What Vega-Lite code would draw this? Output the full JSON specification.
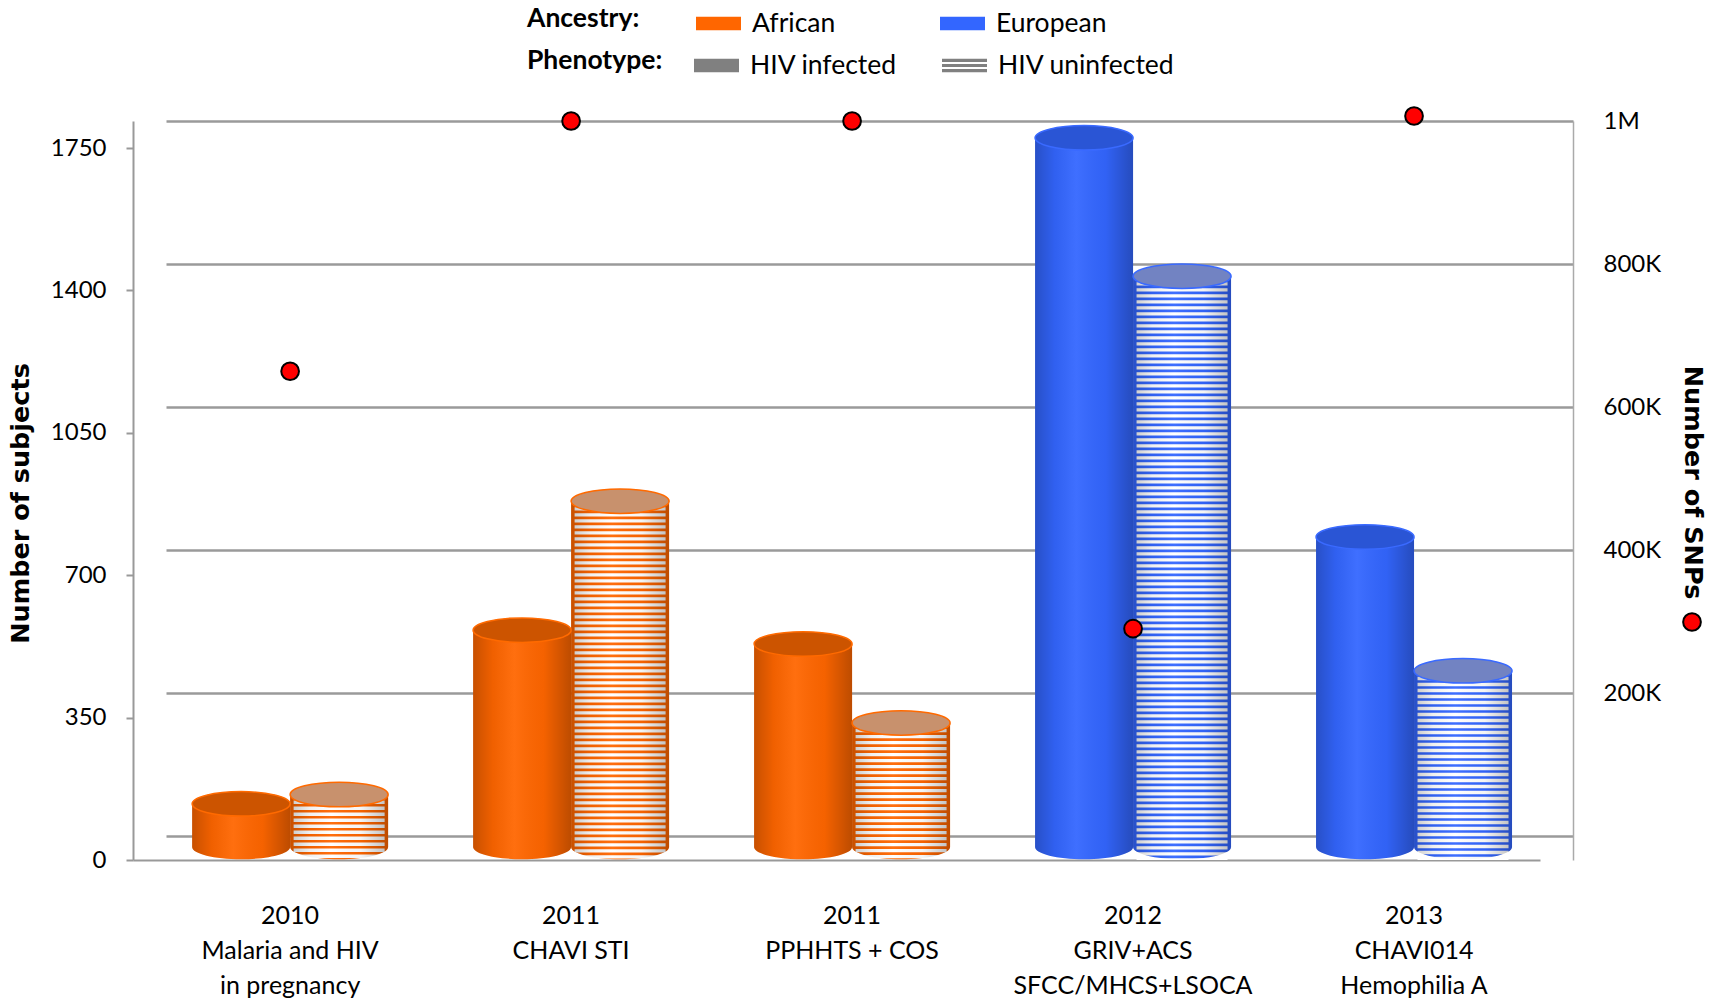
{
  "$schema": "https://vega.github.io/schema/vega-lite/v6.json",
  "width": 1407,
  "height": 739,
  "autosize": {"type": "none"},
  "padding": {"left": 166, "top": 121, "right": 141, "bottom": 146},
  "background": "white",
  "config": {
    "view": {"stroke": null},
    "font": "Lato",
    "legend": {"padding": 0}
  },
  "datasets": {
    "subjects": [
      {"Study": "2010\nMalaria and HIV\nin pregnancy", "Ancestry": "African", "Phenotype": "HIV infected", "Subjects": 138},
      {"Study": "2010\nMalaria and HIV\nin pregnancy", "Ancestry": "African", "Phenotype": "HIV uninfected", "Subjects": 161},
      {"Study": "2011\nCHAVI STI", "Ancestry": "African", "Phenotype": "HIV infected", "Subjects": 565},
      {"Study": "2011\nCHAVI STI", "Ancestry": "African", "Phenotype": "HIV uninfected", "Subjects": 882},
      {"Study": "2011\nPPHHTS + COS", "Ancestry": "African", "Phenotype": "HIV infected", "Subjects": 531},
      {"Study": "2011\nPPHHTS + COS", "Ancestry": "African", "Phenotype": "HIV uninfected", "Subjects": 337},
      {"Study": "2012\nGRIV+ACS\nSFCC/MHCS+LSOCA", "Ancestry": "European", "Phenotype": "HIV infected", "Subjects": 1775},
      {"Study": "2012\nGRIV+ACS\nSFCC/MHCS+LSOCA", "Ancestry": "European", "Phenotype": "HIV uninfected", "Subjects": 1435},
      {"Study": "2013\nCHAVI014\nHemophilia A", "Ancestry": "European", "Phenotype": "HIV infected", "Subjects": 794},
      {"Study": "2013\nCHAVI014\nHemophilia A", "Ancestry": "European", "Phenotype": "HIV uninfected", "Subjects": 465}
    ],
    "snps": [
      {"Study": "2010\nMalaria and HIV\nin pregnancy", "SNPs": 650000},
      {"Study": "2011\nCHAVI STI", "SNPs": 1000000},
      {"Study": "2011\nPPHHTS + COS", "SNPs": 1000000},
      {"Study": "2012\nGRIV+ACS\nSFCC/MHCS+LSOCA", "SNPs": 290000},
      {"Study": "2013\nCHAVI014\nHemophilia A", "SNPs": 1007000}
    ]
  },
  "encoding": {
    "x": {
      "field": "Study",
      "type": "nominal",
      "sort": null,
      "scale": {
        "domain": ["2010\nMalaria and HIV\nin pregnancy", "2011\nCHAVI STI", "2011\nPPHHTS + COS", "2012\nGRIV+ACS\nSFCC/MHCS+LSOCA", "2013\nCHAVI014\nHemophilia A"],
        "paddingInner": 0.3025,
        "paddingOuter": 0.155,
        "align": 0.3
      },
      "axis": {
        "title": null,
        "domain": true,
        "domainColor": "#999999",
        "domainWidth": 2,
        "ticks": false,
        "translate": -32.5,
        "offset": 33,
        "labelOffset": 33,
        "labelAngle": 0,
        "labelExpr": "split(datum.label, '\\n')",
        "labelFont": "Lato",
        "labelFontSize": 25,
        "labelLineHeight": 35,
        "labelPadding": 43,
        "labelColor": "black",
        "labelLimit": 0
      }
    }
  },
  "layer": [
    {
      "data": {"name": "subjects"},
      "encoding": {
        "xOffset": {
          "field": "Phenotype",
          "type": "nominal",
          "sort": ["HIV infected", "HIV uninfected"],
          "scale": {"paddingInner": 0, "paddingOuter": 0}
        }
      },
      "layer": [
        {
          "mark": {"type": "bar", "y2Offset": -13},
          "encoding": {
            "y": {
              "field": "Subjects",
              "type": "quantitative",
              "scale": {"domain": [0, 1816.4], "nice": false, "zero": false},
              "axis": {
                "orient": "left",
                "offset": 33,
                "values": [0, 350, 700, 1050, 1400, 1750],
                "format": "d",
                "grid": false,
                "domainColor": "#999999",
                "domainWidth": 2,
                "ticks": true,
                "tickColor": "#999999",
                "tickWidth": 2,
                "tickSize": 7,
                "labelPadding": 20,
                "labelFont": "Lato",
                "labelFontSize": 24,
                "labelColor": "black",
                "title": "Number of subjects",
                "titleFont": "DejaVu Sans",
                "titleFontSize": 25.5,
                "titleFontWeight": "bold",
                "titleColor": "black",
                "titleAngle": 270,
                "titleX": -113,
                "titleY": 382,
                "titleAlign": "center",
                "titleBaseline": "middle"
              }
            },
            "y2": {"datum": 0},
            "color": {
              "field": "Ancestry",
              "type": "nominal",
              "scale": {"domain": ["African", "European"], "range": ["#FF6600", "#3366FF"]},
              "legend": {
                "title": "Ancestry:",
                "orient": "none",
                "legendX": 361,
                "legendY": -120,
                "direction": "horizontal",
                "titleOrient": "left",
                "titleAnchor": "middle",
                "titleBaseline": "middle",
                "titleFont": "Lato",
                "titleFontSize": 26.5,
                "titleFontWeight": "bold",
                "titleColor": "black",
                "titlePadding": 56,
                "labelFont": "Lato",
                "labelFontSize": 26.5,
                "labelColor": "black",
                "labelOffset": 11,
                "labelLimit": 0,
                "columnPadding": 104,
                "symbolType": "M-1,-0.3H1V0.3H-1Z",
                "symbolSize": 2025,
                "symbolStrokeWidth": 0,
                "symbolOpacity": 1
              }
            }
          }
        },
        {
          "mark": {
            "type": "point",
            "filled": true,
            "opacity": 1,
            "size": 9604,
            "shape": "M-1,0C-1,0.138,-0.552,0.25,0,0.25C0.552,0.25,1,0.138,1,0Z",
            "yOffset": -13,
            "strokeWidth": 0
          },
          "encoding": {
            "y": {"datum": 0},
            "fill": {
              "condition": {"test": "datum.Ancestry == 'African'", "value": "#FF6600"},
              "value": "#3366FF"
            }
          }
        },
        {
          "transform": [{"filter": "datum.Phenotype == 'HIV uninfected'"}],
          "mark": {"type": "rule", "color": "white", "strokeWidth": 91, "strokeDash": [3.4, 2.6], "strokeCap": "butt"},
          "encoding": {
            "y": {"field": "Subjects", "type": "quantitative"},
            "y2": {"datum": 0}
          }
        },
        {
          "mark": {
            "type": "bar",
            "y2Offset": -13,
            "fill": {
              "gradient": "linear",
              "x1": 0, "y1": 0, "x2": 1, "y2": 0,
              "stops": [
                {"offset": 0, "color": "rgba(0,0,0,0.22)"},
                {"offset": 0.2, "color": "rgba(0,0,0,0.06)"},
                {"offset": 0.42, "color": "rgba(255,255,255,0.06)"},
                {"offset": 0.72, "color": "rgba(0,0,0,0.04)"},
                {"offset": 1, "color": "rgba(0,0,0,0.26)"}
              ]
            }
          },
          "encoding": {
            "y": {"field": "Subjects", "type": "quantitative"},
            "y2": {"datum": 0}
          }
        },
        {
          "mark": {
            "type": "point",
            "filled": true,
            "opacity": 1,
            "size": 9604,
            "shape": "M-1,0C-1,0.138,-0.552,0.25,0,0.25C0.552,0.25,1,0.138,1,0Z",
            "yOffset": -13,
            "strokeWidth": 0,
            "fill": {
              "gradient": "linear",
              "x1": 0, "y1": 0, "x2": 1, "y2": 0,
              "stops": [
                {"offset": 0, "color": "rgba(0,0,0,0.22)"},
                {"offset": 0.2, "color": "rgba(0,0,0,0.06)"},
                {"offset": 0.42, "color": "rgba(255,255,255,0.06)"},
                {"offset": 0.72, "color": "rgba(0,0,0,0.04)"},
                {"offset": 1, "color": "rgba(0,0,0,0.26)"}
              ]
            }
          },
          "encoding": {
            "y": {"datum": 0}
          }
        },
        {
          "mark": {
            "type": "point",
            "filled": true,
            "opacity": 1,
            "size": 9604,
            "strokeWidth": 1.5,
            "shape": "M-1,0C-1,-0.138,-0.552,-0.25,0,-0.25C0.552,-0.25,1,-0.138,1,0C1,0.138,0.552,0.25,0,0.25C-0.552,0.25,-1,0.138,-1,0Z"
          },
          "encoding": {
            "y": {"field": "Subjects", "type": "quantitative"},
            "fill": {
              "condition": [
                {"test": "datum.Ancestry == 'African' && datum.Phenotype == 'HIV infected'", "value": "#CC5400"},
                {"test": "datum.Ancestry == 'African'", "value": "#C8916D"},
                {"test": "datum.Phenotype == 'HIV infected'", "value": "#2A55D5"}
              ],
              "value": "#7283C2"
            },
            "stroke": {
              "condition": {"test": "datum.Ancestry == 'African'", "value": "#FF6A00"},
              "value": "#3A6AFF"
            }
          }
        },
        {
          "mark": {
            "type": "point",
            "filled": true,
            "opacity": 0,
            "fill": "#808080",
            "strokeWidth": 0,
            "size": 1
          },
          "encoding": {
            "y": {"field": "Subjects", "type": "quantitative"},
            "shape": {
              "field": "Phenotype",
              "type": "nominal",
              "scale": {
                "domain": ["HIV infected", "HIV uninfected"],
                "range": [
                  "M-1,-0.3H1V0.3H-1Z",
                  "M-1,-0.3H1V-0.16H-1Z M-1,-0.07H1V0.07H-1Z M-1,0.16H1V0.3H-1Z"
                ]
              },
              "legend": {
                "title": "Phenotype:",
                "orient": "none",
                "legendX": 361,
                "legendY": -78,
                "direction": "horizontal",
                "titleOrient": "left",
                "titleAnchor": "middle",
                "titleBaseline": "middle",
                "titleFont": "Lato",
                "titleFontSize": 26.5,
                "titleFontWeight": "bold",
                "titleColor": "black",
                "titlePadding": 31,
                "labelFont": "Lato",
                "labelFontSize": 26.5,
                "labelColor": "black",
                "labelOffset": 11,
                "labelLimit": 0,
                "columnPadding": 44,
                "symbolSize": 2025,
                "symbolOpacity": 1,
                "symbolFillColor": "#808080",
                "symbolStrokeWidth": 0
              }
            }
          }
        }
      ]
    },
    {
      "data": {"name": "snps"},
      "mark": {"type": "point", "filled": true, "opacity": 1, "size": 314, "shape": "circle", "stroke": "black", "strokeWidth": 2},
      "encoding": {
        "y": {
          "field": "SNPs",
          "type": "quantitative",
          "scale": {"domain": [-33566, 1000000], "nice": false, "zero": false},
          "axis": {
            "orient": "right",
            "values": [0, 200000, 400000, 600000, 800000, 1000000],
            "labelExpr": "datum.value == 0 ? '' : (datum.value >= 1000000 ? '1M' : (datum.value / 1000) + 'K')",
            "grid": true,
            "gridColor": "#9a9a9a",
            "gridWidth": 2.5,
            "domain": true,
            "domainColor": "#aaaaaa",
            "domainWidth": 1.5,
            "ticks": false,
            "labelPadding": 30,
            "labelFont": "Lato",
            "labelFontSize": 24,
            "labelColor": "black",
            "title": "Number of SNPs",
            "titleFont": "DejaVu Sans",
            "titleFontSize": 25.5,
            "titleFontWeight": "bold",
            "titleColor": "black",
            "titleAngle": 90,
            "titleX": 119,
            "titleY": 361,
            "titleAlign": "center",
            "titleBaseline": "middle"
          }
        },
        "fill": {
          "datum": "SNPs",
          "type": "nominal",
          "scale": {"range": ["#FF0000"]},
          "legend": {
            "title": null,
            "orient": "none",
            "legendX": 1516,
            "legendY": 491,
            "labelExpr": "''",
            "symbolType": "circle",
            "symbolSize": 314,
            "symbolStrokeColor": "black",
            "symbolStrokeWidth": 2,
            "symbolOpacity": 1
          }
        }
      }
    }
  ],
  "resolve": {"scale": {"y": "independent"}}
}
